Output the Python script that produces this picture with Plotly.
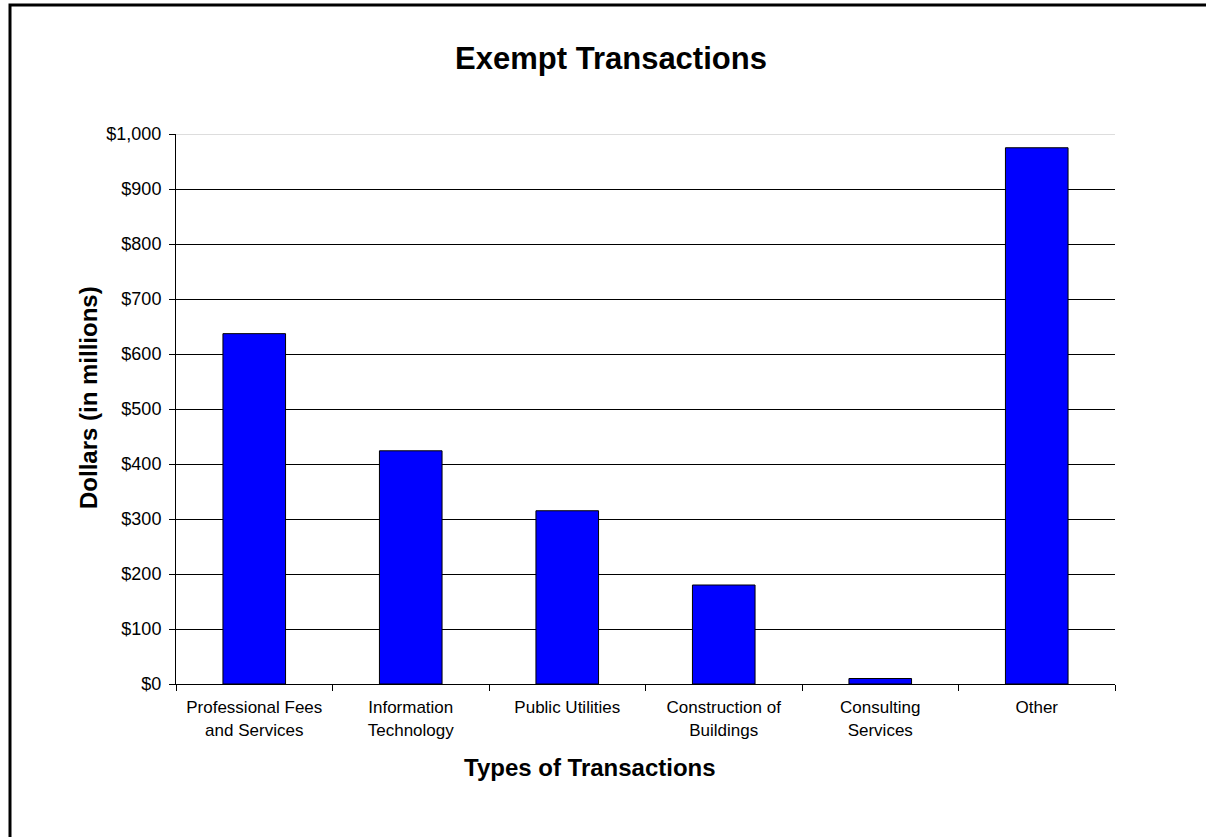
import plotly.graph_objects as go

# Exempt transaction totals by type, in millions of dollars
categories = [
    "Professional Fees<br>and Services",
    "Information<br>Technology",
    "Public Utilities",
    "Construction of<br>Buildings",
    "Consulting<br>Services",
    "Other",
]
values = [637, 424, 315, 180, 10, 975]

y_ticks = [0, 100, 200, 300, 400, 500, 600, 700, 800, 900, 1000]
y_tick_labels = ["$0", "$100", "$200", "$300", "$400", "$500", "$600",
                 "$700", "$800", "$900", "$1,000"]

W, H = 1206, 837
L, R, T, B = 176, 91, 134, 153
plot_w = W - L - R
plot_h = H - T - B

FONT = "Liberation Sans, Arial, sans-serif"


def px_x(px):
    return (px - L) / plot_w


def px_y(px):
    return (T + plot_h - px) / plot_h


fig = go.Figure(
    go.Bar(
        x=categories,
        y=values,
        width=0.4,
        marker=dict(color="#0000FF", line=dict(color="#000000", width=1)),
        hoverinfo="x+y",
    )
)

fig.update_layout(
    width=W,
    height=H,
    margin=dict(l=L, r=R, t=T, b=B),
    paper_bgcolor="white",
    plot_bgcolor="white",
    showlegend=False,
    font=dict(family=FONT, color="black", size=18),
    title=dict(
        text="<b>Exempt Transactions</b>",
        x=611 / W,
        xanchor="center",
        y=1 - 58 / H,
        yanchor="middle",
        font=dict(family=FONT, size=31, color="black"),
    ),
)

fig.update_xaxes(
    type="category",
    tickson="boundaries",
    ticks="outside",
    ticklen=6,
    tickcolor="black",
    tickwidth=1,
    showline=True,
    linecolor="black",
    linewidth=1,
    showgrid=False,
    tickfont=dict(family=FONT, size=17, color="black"),
    ticklabelstandoff=8,
)

fig.update_yaxes(
    range=[0, 1000],
    tickvals=y_ticks,
    ticktext=y_tick_labels,
    ticks="outside",
    ticklen=6,
    tickcolor="black",
    tickwidth=1,
    showline=True,
    linecolor="black",
    linewidth=1,
    showgrid=True,
    gridcolor="black",
    gridwidth=1,
    zeroline=False,
    tickfont=dict(family=FONT, size=18, color="black"),
    ticklabelstandoff=4,
)

# Axis titles
fig.add_annotation(
    text="<b>Types of Transactions</b>", xref="paper", yref="paper",
    x=px_x(590), y=px_y(767), xanchor="center", yanchor="middle",
    showarrow=False, font=dict(family=FONT, size=24, color="black"),
)
fig.add_annotation(
    text="<b>Dollars (in millions)</b>", xref="paper", yref="paper",
    x=px_x(88), y=px_y(398), xanchor="center", yanchor="middle", textangle=-90,
    showarrow=False, font=dict(family=FONT, size=24, color="black"),
)

# Light top edge of the plotting area
fig.add_shape(type="line", xref="paper", yref="y", x0=0, x1=1, y0=1000, y1=1000,
              line=dict(color="#DDDDDD", width=2), layer="above")

# Outer chart border
fig.add_shape(
    type="rect", xref="paper", yref="paper",
    x0=px_x(10), x1=px_x(W + 10),
    y0=px_y(H + 10), y1=px_y(5),
    line=dict(color="black", width=3), fillcolor="rgba(0,0,0,0)", layer="below",
)

fig.write_html("out.html")
